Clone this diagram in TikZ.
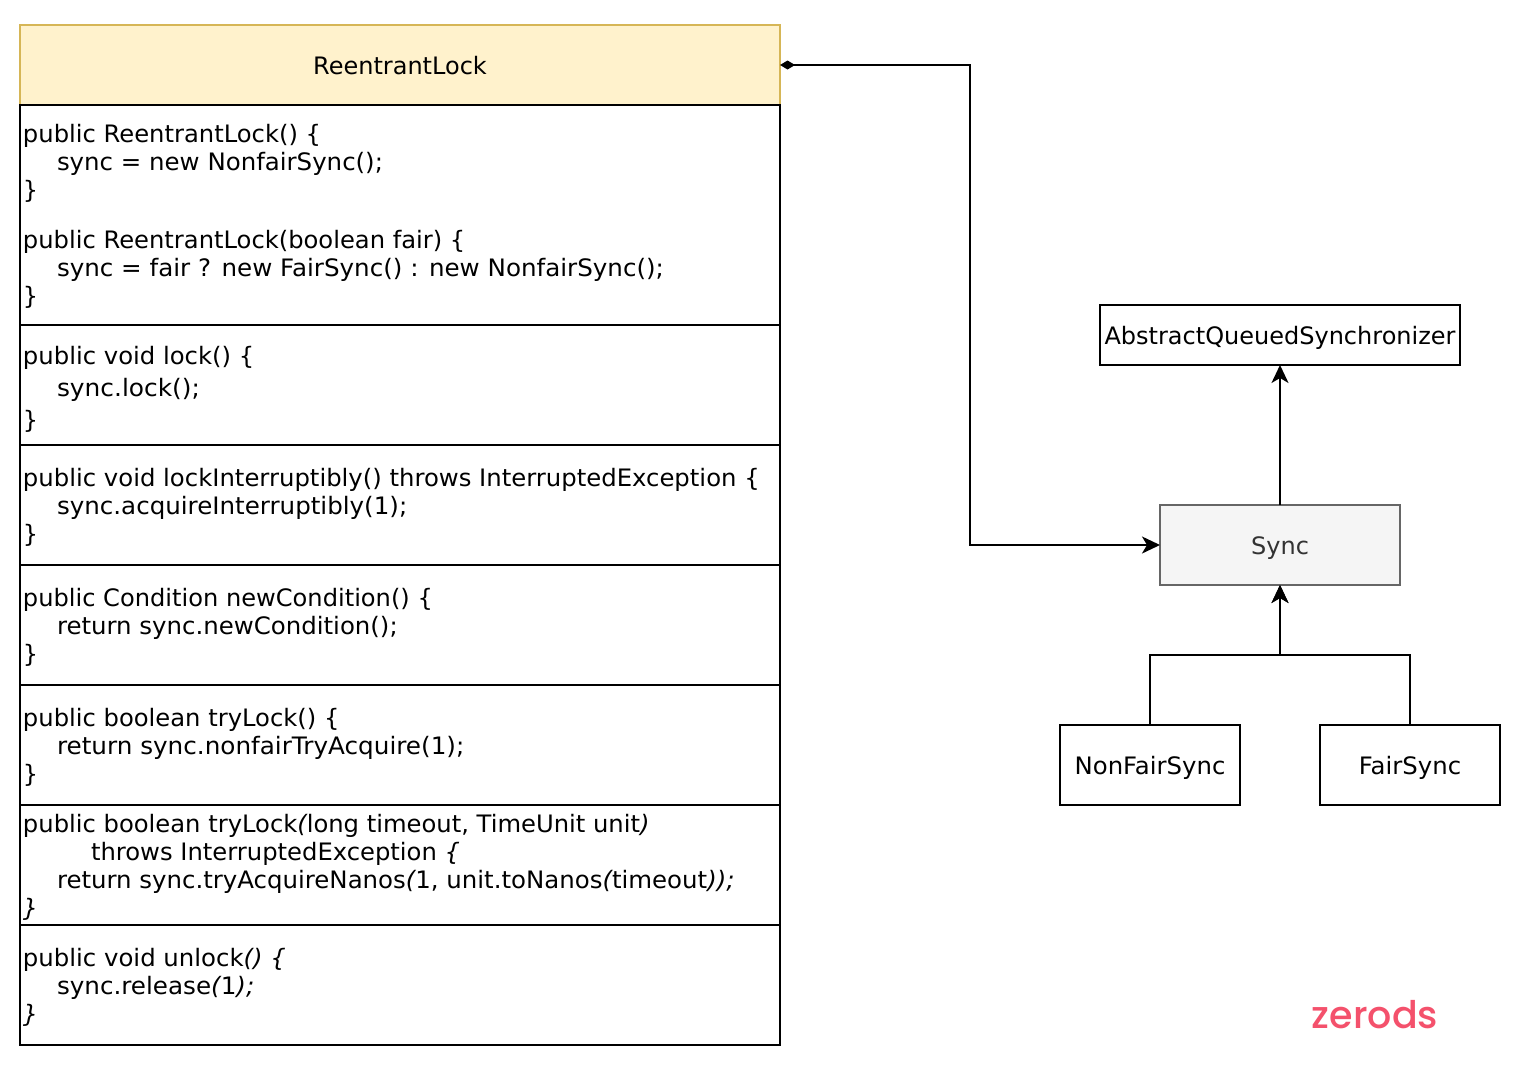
\documentclass[tikz,border=0pt]{standalone}
\usepackage{fontspec}
\setmainfont{DejaVu Sans}
\newfontfamily\markfont[UprightFont=* Medium]{Poppins}
\usetikzlibrary{arrows.meta}
\definecolor{headfill}{HTML}{FFF2CC}
\definecolor{headline}{HTML}{D6B656}
\definecolor{syncfill}{HTML}{F5F5F5}
\definecolor{syncline}{HTML}{666666}
\definecolor{synctext}{HTML}{333333}
\definecolor{markcolor}{HTML}{F4516C}
\newcommand{\ob}[1]{{\itshape #1}}
\tikzset{
  box/.style={draw=black,line width=2pt,inner sep=0pt,outer sep=0pt,text height=18pt,text depth=0pt,font=\fontsize{24}{28}\selectfont},
  codeline/.style={anchor=base west,inner sep=0pt,outer sep=0pt,font=\fontsize{24}{28}\selectfont},
  wide/.style={transform shape,xscale=#1},
  link/.style={draw=black,line width=2pt,-{Stealth[length=18pt,width=17pt,inset=5pt]}},
  own/.style={{Diamond[length=15pt,width=9pt]}-{Stealth[length=18pt,width=17pt,inset=5pt]},line width=2pt},
}
\begin{document}
\begin{tikzpicture}[x=1pt,y=-1pt]
\useasboundingbox (0,0) rectangle (1527,1071);
% class header, then one compartment per group of members
\node[box,draw=headline,fill=headfill,minimum width=760pt,minimum height=80pt] (hdr) at (400,65) {ReentrantLock};
\node[box,minimum width=760pt,minimum height=220pt] (ctor)   at (400,215) {};
\node[box,minimum width=760pt,minimum height=120pt] (lockm)  at (400,385) {};
\node[box,minimum width=760pt,minimum height=120pt] (intr)   at (400,505) {};
\node[box,minimum width=760pt,minimum height=120pt] (cond)   at (400,625) {};
\node[box,minimum width=760pt,minimum height=120pt] (tryone) at (400,745) {};
\node[box,minimum width=760pt,minimum height=120pt] (trytwo) at (400,865) {};
\node[box,minimum width=760pt,minimum height=120pt] (unl)    at (400,985) {};
% member source lines
\node[codeline,wide=1.01] (a1) at (23,142) {public ReentrantLock() \{};
\node[codeline,wide=1.019] (a2) at (57,170) {sync = new NonfairSync();};
\node[codeline] (a3) at (23,198) {\}};
\node[codeline,wide=1.009] (a4) at (23,248) {public ReentrantLock(boolean fair) \{};
\node[codeline,wide=1.024] (a5) at (57,276) {sync = fair ? new FairSync() : new NonfairSync();};
\node[codeline] (a6) at (23,304) {\}};
\node[codeline,wide=1.013] (b1) at (23,364) {public void lock() \{};
\node[codeline,wide=1.036] (b2) at (57,396) {sync.lock();};
\node[codeline] (b3) at (23,428) {\}};
\node[codeline,wide=1.014] (c1) at (23,486) {public void lockInterruptibly() throws InterruptedException \{};
\node[codeline,wide=1.023] (c2) at (57,514) {sync.acquireInterruptibly(1);};
\node[codeline] (c3) at (23,542) {\}};
\node[codeline,wide=1.005] (d1) at (23,606) {public Condition newCondition() \{};
\node[codeline,wide=1.018] (d2) at (57,634) {return sync.newCondition();};
\node[codeline] (d3) at (23,662) {\}};
\node[codeline,wide=1.01] (e1) at (23,726) {public boolean tryLock() \{};
\node[codeline,wide=1.028] (e2) at (57,754) {return sync.nonfairTryAcquire(1);};
\node[codeline] (e3) at (23,782) {\}};
\node[codeline,wide=1.01] (f1) at (23,832) {public boolean tryLock\ob{(}long timeout, TimeUnit unit\ob{)}};
\node[codeline,wide=1.011] (f2) at (91,860) {throws InterruptedException \ob{\{}};
\node[codeline,wide=1.018] (f3) at (57,888) {return sync.tryAcquireNanos\ob{(}1, unit.toNanos\ob{(}timeout\ob{));}};
\node[codeline] (f4) at (23,916) {\ob{\}}};
\node[codeline,wide=1.016] (g1) at (23,966) {public void unlock\ob{() \{}};
\node[codeline,wide=1.026] (g2) at (57,994) {sync.release\ob{(}1\ob{);}};
\node[codeline] (g3) at (23,1022) {\ob{\}}};
% synchronizer hierarchy
\node[box,minimum width=360pt,minimum height=60pt] (aqs) at (1280,335) {AbstractQueuedSynchronizer};
\node[box,draw=syncline,fill=syncfill,text=synctext,minimum width=240pt,minimum height=80pt] (sync) at (1280,545) {Sync};
\node[box,minimum width=180pt,minimum height=80pt] (nonfair) at (1150,765) {\scalebox{1.015}[1]{NonFairSync}};
\node[box,minimum width=180pt,minimum height=80pt] (fair) at (1410,765) {\scalebox{1.015}[1]{FairSync}};
\coordinate (elbow) at (970,300);
\coordinate (merge) at (1280,655);
\draw[link] (sync) -- (aqs);
\draw[link] (nonfair.north) |- (merge) -- (sync.south);
\draw[link] (fair.north) |- (merge) -- (sync.south);
\draw[own] (hdr.east) -| (elbow) |- (sync.west);
% signature
\node[anchor=base,text=markcolor,inner sep=0pt,font=\markfont\fontsize{38}{40}\selectfont] (sig) at (1375,1028) {zerods};
\end{tikzpicture}
\end{document}
